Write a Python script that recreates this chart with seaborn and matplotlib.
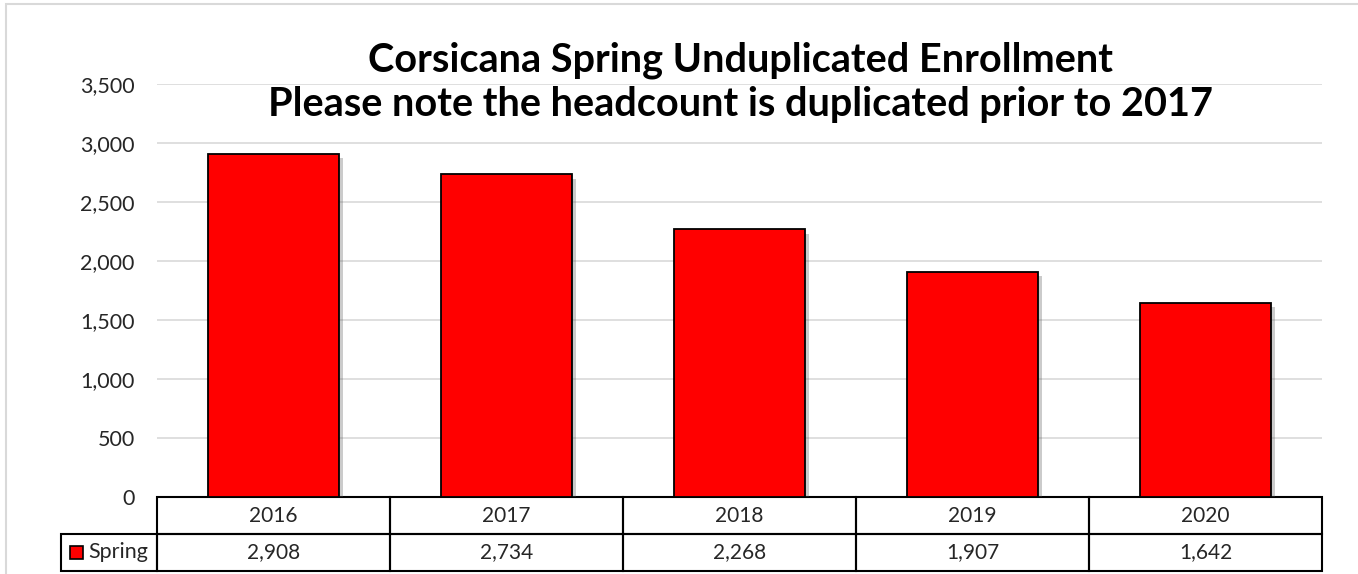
#plot.py
#Corsicana spring enrollment bar chart with a data table under it

import matplotlib
matplotlib.use('Agg')
import matplotlib.pyplot as plt
import matplotlib.patheffects as pe
from matplotlib.patches import Rectangle
import pandas as pd
import seaborn as sea

#chart data
years = ['2016', '2017', '2018', '2019', '2020']
spring = [2908, 2734, 2268, 1907, 1642]
series_name = 'Spring'
title_lines = ['Corsicana Spring Unduplicated Enrollment',
               'Please note the headcount is duplicated prior to 2017']

df = pd.DataFrame({'Year': years, series_name: spring})

sea.set_style('white')
plt.rcParams['font.family'] = ['Lato', 'DejaVu Sans']

fig = plt.figure(figsize=(13.58, 5.74), dpi=100)
ax = fig.add_axes([157 / 1358, 1 - 497 / 574, 1165 / 1358, 413 / 574])

#bars with a soft drop shadow
sea.barplot(x='Year', y=series_name, data=df, color='#ff0000', saturation=1,
            width=0.56, edgecolor='black', linewidth=1.3, ax=ax, zorder=3)
for bar in ax.patches:
    bar.set_path_effects([pe.SimplePatchShadow(offset=(3, -3), shadow_rgbFace='#555555', alpha=0.3),
                          pe.Normal()])

ax.set_xlim(-0.5, len(years) - 0.5)
ax.set_ylim(0, 3500)
ax.set_yticks(range(0, 3501, 500))
ax.set_yticklabels([f'{v:,}' for v in range(0, 3501, 500)], fontsize=15.5)
ax.tick_params(axis='y', length=0, pad=16)
ax.set_xticks([])
ax.set_xlabel('')
ax.set_ylabel('')
ax.yaxis.grid(True, color='#d9d9d9', linewidth=1.2, zorder=0)
ax.set_axisbelow(True)
for s in ax.spines.values():
    s.set_visible(False)

#title
fig.text(0.545, 1 - 60 / 574, title_lines[0], ha='center', va='center', fontsize=28.5,
         fontweight='bold', color='black')
fig.text(0.545, 1 - 105 / 574, title_lines[1], ha='center', va='center', fontsize=28.5,
         fontweight='bold', color='black')

#data table drawn in axes fraction coords
row_h = 37 / 413
n = len(years)
for i, (yr, val) in enumerate(zip(years, spring)):
    x0 = i / n
    for r, txt in enumerate([yr, f'{val:,}']):
        y0 = -(r + 1) * row_h
        ax.add_patch(Rectangle((x0, y0), 1 / n, row_h, transform=ax.transAxes, fill=False,
                               edgecolor='black', linewidth=1.5, clip_on=False))
        ax.text(x0 + 0.5 / n, y0 + row_h / 2, txt, transform=ax.transAxes, ha='center',
                va='center', fontsize=15)

#legend cell
lw = 96 / 1165
ax.add_patch(Rectangle((-lw, -2 * row_h), lw, row_h, transform=ax.transAxes, fill=False,
                       edgecolor='black', linewidth=1.5, clip_on=False))
ax.add_patch(Rectangle((-lw + 9 / 1165, -2 * row_h + 12 / 413), 13 / 1165, 13 / 413,
                       transform=ax.transAxes, facecolor='#ff0000', edgecolor='black',
                       linewidth=1.2, clip_on=False))
ax.text(-lw + 27 / 1165, -1.5 * row_h, series_name, transform=ax.transAxes, ha='left',
        va='center', fontsize=15.5)

#light chart border
fig.add_artist(Rectangle((6 / 1358, -0.1), 1.2, 1 - 4 / 574 + 0.1, transform=fig.transFigure,
                         fill=False, edgecolor='#d9d9d9', linewidth=1.5))

plt.savefig('out.png', dpi=100)
